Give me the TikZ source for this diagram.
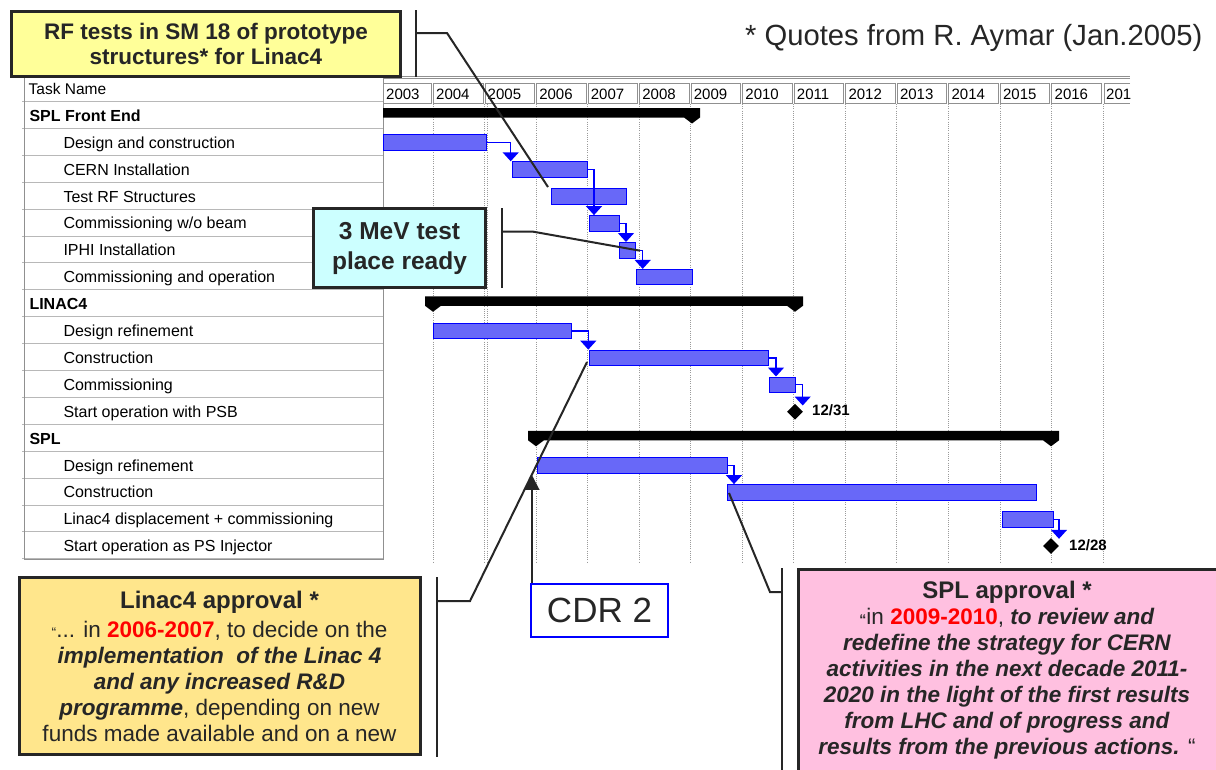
\documentclass[tikz,border=0pt]{standalone}
\usepackage{fontspec}
\setmainfont{Liberation Sans}
\usetikzlibrary{arrows.meta,shapes.geometric,calc}
\definecolor{tabgray}{HTML}{909090}
\definecolor{rowgray}{HTML}{B8B8B8}
\definecolor{gridgray}{HTML}{9A9A9A}
\definecolor{barfill}{RGB}{104,104,248}
\definecolor{barblue}{HTML}{0000FF}
\definecolor{dark}{HTML}{262626}
\definecolor{rfyellow}{HTML}{FFFF99}
\definecolor{mevcyan}{HTML}{CCFFFF}
\definecolor{linyellow}{RGB}{255,230,140}
\definecolor{splpink}{RGB}{255,192,224}
\tikzset{
 tabline/.style={draw=tabgray, line width=1pt},
 rowline/.style={draw=rowgray, line width=1pt},
 gridline/.style={draw=gridgray, line width=0.9pt, dash pattern=on 1pt off 1.2pt},
 taskbar/.style={draw=barblue, line width=1pt, fill=barfill, minimum height=15.5pt, inner sep=0pt, anchor=west},
 link/.style={draw=barblue, line width=1.4pt, -{Triangle[width=16pt,length=9pt]}},
 milestone/.style={diamond, fill=black, minimum size=16pt, inner sep=0pt},
 mslabel/.style={anchor=base west, inner sep=0pt, font=\fontsize{15}{18}\selectfont\bfseries},
 taskhead/.style={anchor=base west, inner sep=0pt, font=\fontsize{16}{19}\selectfont\bfseries},
 tasksub/.style={anchor=base west, inner sep=0pt, font=\fontsize{16}{19}\selectfont},
 yearlabel/.style={anchor=base west, inner sep=0pt, font=\fontsize{15}{18}\selectfont},
 callout/.style={draw=dark, line width=3pt, align=center, inner sep=0pt, text=dark},
 pointer/.style={draw=dark, line width=2pt},
 cdrarrow/.style={draw=dark, line width=2pt, -{Triangle[width=15pt,length=15pt]}},
}
\begin{document}
\begin{tikzpicture}[x=1pt,y=-1pt]
\useasboundingbox (0,0) rectangle (1216,769);
\clip (0,0) rectangle (1216,769);
\fill[white] (0,0) rectangle (1216,769);

% ---------- task table ----------
\foreach \i in {0,...,17} \draw[rowline] (22,{101.5+26.9*\i}) -- (383,{101.5+26.9*\i});
\draw[tabline] (24,77) rectangle (383,559);
\node[tasksub, font=\fontsize{15.5}{18}\selectfont] (hdr) at (28.5,94.3) {Task Name};

\node[taskhead] (t0)  at (29.3,121.3) {SPL Front End};
\node[tasksub]  (t1)  at (63.3,148.2) {Design and construction};
\node[tasksub]  (t2)  at (63.3,175.1) {CERN Installation};
\node[tasksub]  (t3)  at (63.3,202.0) {Test RF Structures};
\node[tasksub]  (t4)  at (63.3,228.9) {Commissioning w/o beam};
\node[tasksub]  (t5)  at (63.3,255.8) {IPHI Installation};
\node[tasksub]  (t6)  at (63.3,282.7) {Commissioning and operation};
\node[taskhead] (t7)  at (29.3,309.6) {LINAC4};
\node[tasksub]  (t8)  at (63.3,336.5) {Design refinement};
\node[tasksub]  (t9)  at (63.3,363.4) {Construction};
\node[tasksub]  (t10) at (63.3,390.3) {Commissioning};
\node[tasksub]  (t11) at (63.3,417.2) {Start operation with PSB};
\node[taskhead] (t12) at (29.3,444.1) {SPL};
\node[tasksub]  (t13) at (63.3,471.0) {Design refinement};
\node[tasksub]  (t14) at (63.3,497.9) {Construction};
\node[tasksub]  (t15) at (63.3,524.8) {Linac4 displacement + commissioning};
\node[tasksub]  (t16) at (63.3,551.7) {Start operation as PS Injector};

% ---------- gantt header ----------
\draw[tabline] (383,76) -- (1130,76);
\draw[tabline] (383,78.5) -- (1130,78.5);
\foreach \yr [count=\k from 0] in {2003,...,2016} {
  \pgfmathsetmacro\xl{ifthenelse(\k==0,383,433+(\k-1)*51.54)}
  \pgfmathsetmacro\xr{433+\k*51.54}
  \draw[tabline] ({\xl+0.5},83) rectangle ({\xr-1.5},103);
  \node[yearlabel] (y\yr) at ({\xl+3},99.5) {\yr};
}
\draw[tabline] (1130,83) -- (1104.5,83) -- (1104.5,103) -- (1130,103);
\node[yearlabel] (y2017) at (1106,99.5) {201};

% ---------- grid ----------
\foreach \k in {0,...,13} \draw[gridline] ({433+\k*51.54},104) -- ({433+\k*51.54},563);
\draw[gridline] (487.6,104) -- (487.6,563);

% ---------- summary bars ----------
\fill (383,108) -- (700,108) -- (700,117.5) -- (692,123.5) -- (684,117.5) -- (383,117.5) -- cycle;
\fill (425,296.3) -- (803,296.3) -- (803,305.8) -- (795,311.8) -- (787,305.8) -- (441,305.8) -- (433,311.8) -- (425,305.8) -- cycle;
\fill (528,430.8) -- (1059,430.8) -- (1059,440.3) -- (1051,446.3) -- (1043,440.3) -- (544,440.3) -- (536,446.3) -- (528,440.3) -- cycle;

% ---------- task bars ----------
\node[taskbar, minimum width=103pt]   (b1)  at (383,142.65) {};
\node[taskbar, minimum width=75.3pt]  (b2)  at (511.7,169.55) {};
\node[taskbar, minimum width=75.3pt]  (b3)  at (550.7,196.45) {};
\node[taskbar, minimum width=29.7pt]  (b4)  at (589,223.35) {};
\node[taskbar, minimum width=15.7pt]  (b5)  at (619.3,250.25) {};
\node[taskbar, minimum width=55.7pt]  (b6)  at (636,277.15) {};
\node[taskbar, minimum width=137.7pt] (b8)  at (433.3,330.95) {};
\node[taskbar, minimum width=179pt]   (b9)  at (589.3,357.85) {};
\node[taskbar, minimum width=26pt]    (b10) at (769,384.75) {};
\node[taskbar, minimum width=190pt]   (b13) at (536.7,465.45) {};
\node[taskbar, minimum width=308.7pt] (b14) at (727.3,492.35) {};
\node[taskbar, minimum width=51pt]    (b15) at (1001.7,519.25) {};

\node[milestone] (m11) at (795,411.7) {};
\node[milestone] (m16) at (1051,546) {};
\node[mslabel] (l11) at (812,415.6) {12/31};
\node[mslabel] (l16) at (1069,550) {12/28};

% ---------- links ----------
\draw[link] (b1.east) -| ([xshift=-1pt]b2.north west);
\draw[link] (b2.east) -| ([xshift=5pt]b4.north west);
\draw[link] (b4.east) -| ([xshift=6.7pt]b5.north west);
\draw[link] (b5.east) -| ([xshift=6.7pt]b6.north west);
\draw[link] (b8.east) -| ([xshift=-1pt]b9.north west);
\draw[link] (b9.east) -| ([xshift=7pt]b10.north west);
\draw[link] (b10.east) -| ([xshift=7.7pt,yshift=-2pt]m11.north);
\draw[link] (b13.east) -| ([xshift=6.7pt]b14.north west);
\draw[link] (b15.east) -| ([xshift=8pt,yshift=-1pt]m16.north);

% ---------- quote ----------
\node[anchor=base west, inner sep=0pt, text=dark, font=\fontsize{29.2}{34}\selectfont] (quote) at (745,45) {* Quotes from R. Aymar (Jan.2005)};

% ---------- callouts ----------
\node[callout, fill=rfyellow, minimum width=389pt, minimum height=65pt,
      font=\fontsize{22.5}{25}\selectfont\bfseries] (rf) at (206,43.5)
  {RF tests in SM 18 of prototype\\structures* for Linac4};
\coordinate (rfA) at (416,33);
\coordinate (rfB) at (447,33);
\coordinate (rfT) at (548,187);
\draw[pointer] (416,10) -- (416,77);
\draw[pointer] (rfA) -- (rfB) -- (rfT);

\node[callout, fill=mevcyan, minimum width=172pt, minimum height=79pt,
      font=\fontsize{24.5}{30}\selectfont\bfseries] (mev) at (399.5,248)
  {3 MeV test\\place ready};
\coordinate (mevA) at (501.7,231.7);
\coordinate (mevB) at (533.3,231.7);
\coordinate (mevT) at (640,250.7);
\draw[pointer] (501.7,208) -- (501.7,288);
\draw[pointer] (mevA) -- (mevB) -- (mevT);

\node[callout, fill=linyellow, minimum width=401pt, minimum height=177pt,
      font=\fontsize{22.5}{26}\selectfont] (lin) at (219.5,666)
  {{\fontsize{24}{26}\selectfont\bfseries Linac4 approval *}\\[3pt]
   {\fontsize{14}{14}\selectfont “}... in \textbf{\textcolor{red}{2006-2007}}, to decide on the\\
   \textbf{\textit{implementation\ \ of the Linac 4}}\\
   \textbf{\textit{and any increased R\&D}}\\
   \textbf{\textit{programme}}, depending on new\\
   funds made available and on a new};
\coordinate (linA) at (437,601);
\coordinate (linB) at (470,601);
\coordinate (linT) at (587,362);
\draw[pointer] (437,577) -- (437,757);
\draw[pointer] (linA) -- (linB) -- (linT);

\filldraw[fill=splpink, draw=dark, line width=3pt] (798.5,569.5) rectangle (1240,800);
\node[align=center, inner sep=0pt, text=dark, font=\fontsize{22.5}{26}\selectfont] (spl) at (1007,670.5)
  {{\fontsize{24}{26}\selectfont\bfseries SPL approval *}\\
   {\fontsize{14}{14}\selectfont\bfseries “}in \textbf{\textcolor{red}{2009-2010}}, \textbf{\textit{to review and}}\\
   \textbf{\textit{redefine the strategy for CERN}}\\
   \textbf{\textit{activities in the next decade 2011-}}\\
   \textbf{\textit{2020 in the light of the first results}}\\
   \textbf{\textit{from LHC and of progress and}}\\
   \textbf{\textit{results from the previous actions.}} “};
\coordinate (splA) at (781.7,592);
\coordinate (splB) at (770,592);
\coordinate (splT) at (729,493);
\draw[pointer] (781.7,568) -- (781.7,775);
\draw[pointer] (splA) -- (splB) -- (splT);

\node[draw=barblue, line width=2.5pt, fill=white, minimum width=137pt, minimum height=53pt,
      inner sep=0pt, text=dark, font=\fontsize{35}{40}\selectfont] (cdr) at (599.5,610.5) {CDR 2};
\draw[cdrarrow] ([xshift=2pt]cdr.north west) -- ++(0,-108);
\end{tikzpicture}
\end{document}
